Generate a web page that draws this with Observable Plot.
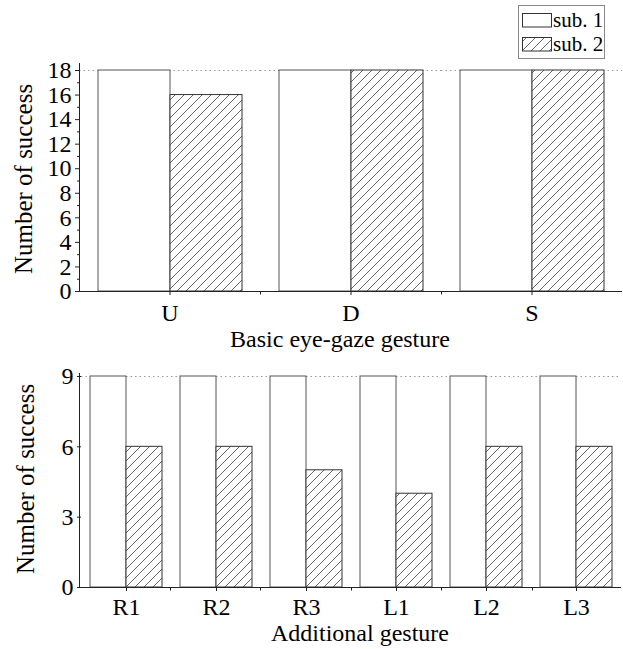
<!DOCTYPE html>
<html>
<head>
<meta charset="utf-8">
<script src="https://cdn.jsdelivr.net/npm/d3@7"></script>
<script src="https://cdn.jsdelivr.net/npm/@observablehq/plot@0.6"></script>
<style>
  body { margin: 0; background: #fff; }
  #wrap { position: relative; width: 623px; height: 649px; overflow: hidden;
          font-family: "Liberation Serif", "Times New Roman", serif; color: #000; }
  #wrap svg { position: absolute; left: 0; }
  .title { position: absolute; white-space: nowrap; line-height: 1; color: #000; }
</style>
</head>
<body>
<div id="wrap"></div>
<script>
// ---------------- data ----------------
const subjects = ["sub. 1", "sub. 2"];

const basicGestures = ["U", "D", "S"];
const basicSub1 = [18, 18, 18];
const basicSub2 = [16, 18, 18];
const basicMax = 18;
const basicTicks = [0, 2, 4, 6, 8, 10, 12, 14, 16, 18];
const basicMinorTicks = [1, 3, 5, 7, 9, 11, 13, 15, 17];
const basicXLabel = "Basic eye-gaze gesture";

const addGestures = ["R1", "R2", "R3", "L1", "L2", "L3"];
const addSub1 = [9, 9, 9, 9, 9, 9];
const addSub2 = [6, 6, 5, 4, 6, 6];
const addMax = 9;
const addTicks = [0, 3, 6, 9];
const addXLabel = "Additional gesture";

const yLabel = "Number of success";
// --------------------------------------

const FONT = '"Liberation Serif", "Times New Roman", serif';
const wrap = document.getElementById("wrap");

function addHatch(svg, id) {
  const defs = d3.select(svg).insert("defs", ":first-child");
  const p = defs.append("pattern").attr("id", id)
    .attr("patternUnits", "userSpaceOnUse").attr("width", 9).attr("height", 9);
  p.append("rect").attr("width", 9).attr("height", 9).attr("fill", "white");
  p.append("path").attr("d", "M-1,1 L1,-1 M0,9 L9,0 M8,10 L10,8")
    .attr("stroke", "#555").attr("stroke-width", 0.9).attr("fill", "none");
}

function panel({cats, s1, s2, ymax, ticks, minor, height, marginTop, marginBottom, tickPadding, id, axisExt}) {
  const rows = cats.flatMap((c, i) => [
    {cat: c, sub: subjects[0], v: s1[i]},
    {cat: c, sub: subjects[1], v: s2[i]}
  ]);
  const marks = [
    Plot.ruleY([ymax], {stroke: "#9a9a9a", strokeDasharray: "1.5,3"}),
    Plot.barY(rows.filter(d => d.sub === subjects[0]),
      {fx: "cat", x: "sub", y: "v", fill: "white", stroke: "#555", strokeWidth: 1}),
    Plot.barY(rows.filter(d => d.sub === subjects[1]),
      {fx: "cat", x: "sub", y: "v", fill: `url(#${id})`, stroke: "#333", strokeWidth: 1}),
    Plot.ruleY([0], {stroke: "#222"}),
    Plot.axisY({ticks, tickSize: 4, tickPadding: 4, fontSize: 24, label: null, stroke: "#222"}),
    Plot.axisFx({anchor: "bottom", tickSize: 4, tickPadding, fontSize: 24, label: null, stroke: "#222"})
  ];
  if (minor) marks.push(Plot.axisY({ticks: minor, tickSize: 2, text: null, label: null, stroke: "#222"}));
  const svg = Plot.plot({
    width: 623, height, marginLeft: 79, marginRight: 1, marginTop, marginBottom,
    style: {fontFamily: FONT, fontSize: "24px", background: "transparent", color: "#000"},
    fx: {domain: cats, padding: 0, label: null, axis: null},
    x: {domain: subjects, paddingInner: 0, paddingOuter: 0.25, axis: null, label: null},
    y: {domain: [0, ymax], axis: null, label: null},
    marks
  });
  addHatch(svg, id);
  // y-axis line and minor category-boundary ticks, from the plot's own scales
  const ys = svg.scale("y");
  const y0 = ys.range[0], y1 = ys.range[1];
  const sel = d3.select(svg);
  sel.append("line").attr("x1", 79.5).attr("x2", 79.5)
    .attr("y1", y0 + 0.5).attr("y2", y1 - axisExt).attr("stroke", "#222");
  let fxs = null;
  try { fxs = svg.scale("fx"); } catch (e) { fxs = null; }
  const r0 = fxs ? fxs.range[0] : 79, r1 = fxs ? fxs.range[1] : 622;
  const step = (r1 - r0) / cats.length;
  for (let i = 1; i < cats.length; i++) {
    const xb = Math.round(r0 + i * step) + 0.5;
    sel.append("line").attr("x1", xb).attr("x2", xb)
      .attr("y1", y0 + 0.5).attr("y2", y0 + 3.5).attr("stroke", "#222");
  }
  return svg;
}

const topPlot = panel({cats: basicGestures, s1: basicSub1, s2: basicSub2, ymax: basicMax,
  ticks: basicTicks, minor: basicMinorTicks, height: 360, marginTop: 70, marginBottom: 69,
  tickPadding: 8, id: "hatchTop", axisExt: 7});
topPlot.style.top = "0px";
wrap.appendChild(topPlot);

const bottomPlot = panel({cats: addGestures, s1: addSub1, s2: addSub2, ymax: addMax,
  ticks: addTicks, minor: null, height: 289, marginTop: 16, marginBottom: 62,
  tickPadding: 6, id: "hatchBot", axisExt: 3});
bottomPlot.style.top = "360px";
wrap.appendChild(bottomPlot);

// axis titles
function title(text, cx, topPx, size, rotate) {
  const d = document.createElement("div");
  d.className = "title";
  d.textContent = text;
  d.style.fontSize = size + "px";
  d.style.left = cx + "px";
  d.style.top = topPx + "px";
  d.style.transform = rotate ? "translate(-50%,-50%) rotate(-90deg)" : "translate(-50%,0)";
  wrap.appendChild(d);
}
title(basicXLabel, 340, 327, 24, false);
title(addXLabel, 360, 621, 24, false);
title(yLabel, 23, 179, 25, true);
title(yLabel, 25, 479, 25, true);

// legend
const leg = d3.create("svg").attr("width", 110).attr("height", 62)
  .style("left", "510px").style("top", "0px");
const ldefs = leg.append("defs").append("pattern").attr("id", "hatchLeg")
  .attr("patternUnits", "userSpaceOnUse").attr("width", 9).attr("height", 9);
ldefs.append("rect").attr("width", 9).attr("height", 9).attr("fill", "white");
ldefs.append("path").attr("d", "M-1,1 L1,-1 M0,9 L9,0 M8,10 L10,8")
  .attr("stroke", "#555").attr("stroke-width", 0.9);
leg.append("rect").attr("x", 8.5).attr("y", 5.5).attr("width", 86).attr("height", 53)
  .attr("fill", "white").attr("stroke", "#888");
const swatchFills = ["white", "url(#hatchLeg)"];
const swatchY = [13.5, 37.5];
subjects.forEach((s, i) => {
  leg.append("rect").attr("x", 12.5).attr("y", swatchY[i]).attr("width", 29).attr("height", 13.5)
    .attr("fill", swatchFills[i]).attr("stroke", "#333");
  leg.append("text").attr("x", 43).attr("y", swatchY[i] + 13.5)
    .attr("font-family", FONT).attr("font-size", 21).attr("fill", "#000").text(s);
});
wrap.appendChild(leg.node());
</script>
</body>
</html>
